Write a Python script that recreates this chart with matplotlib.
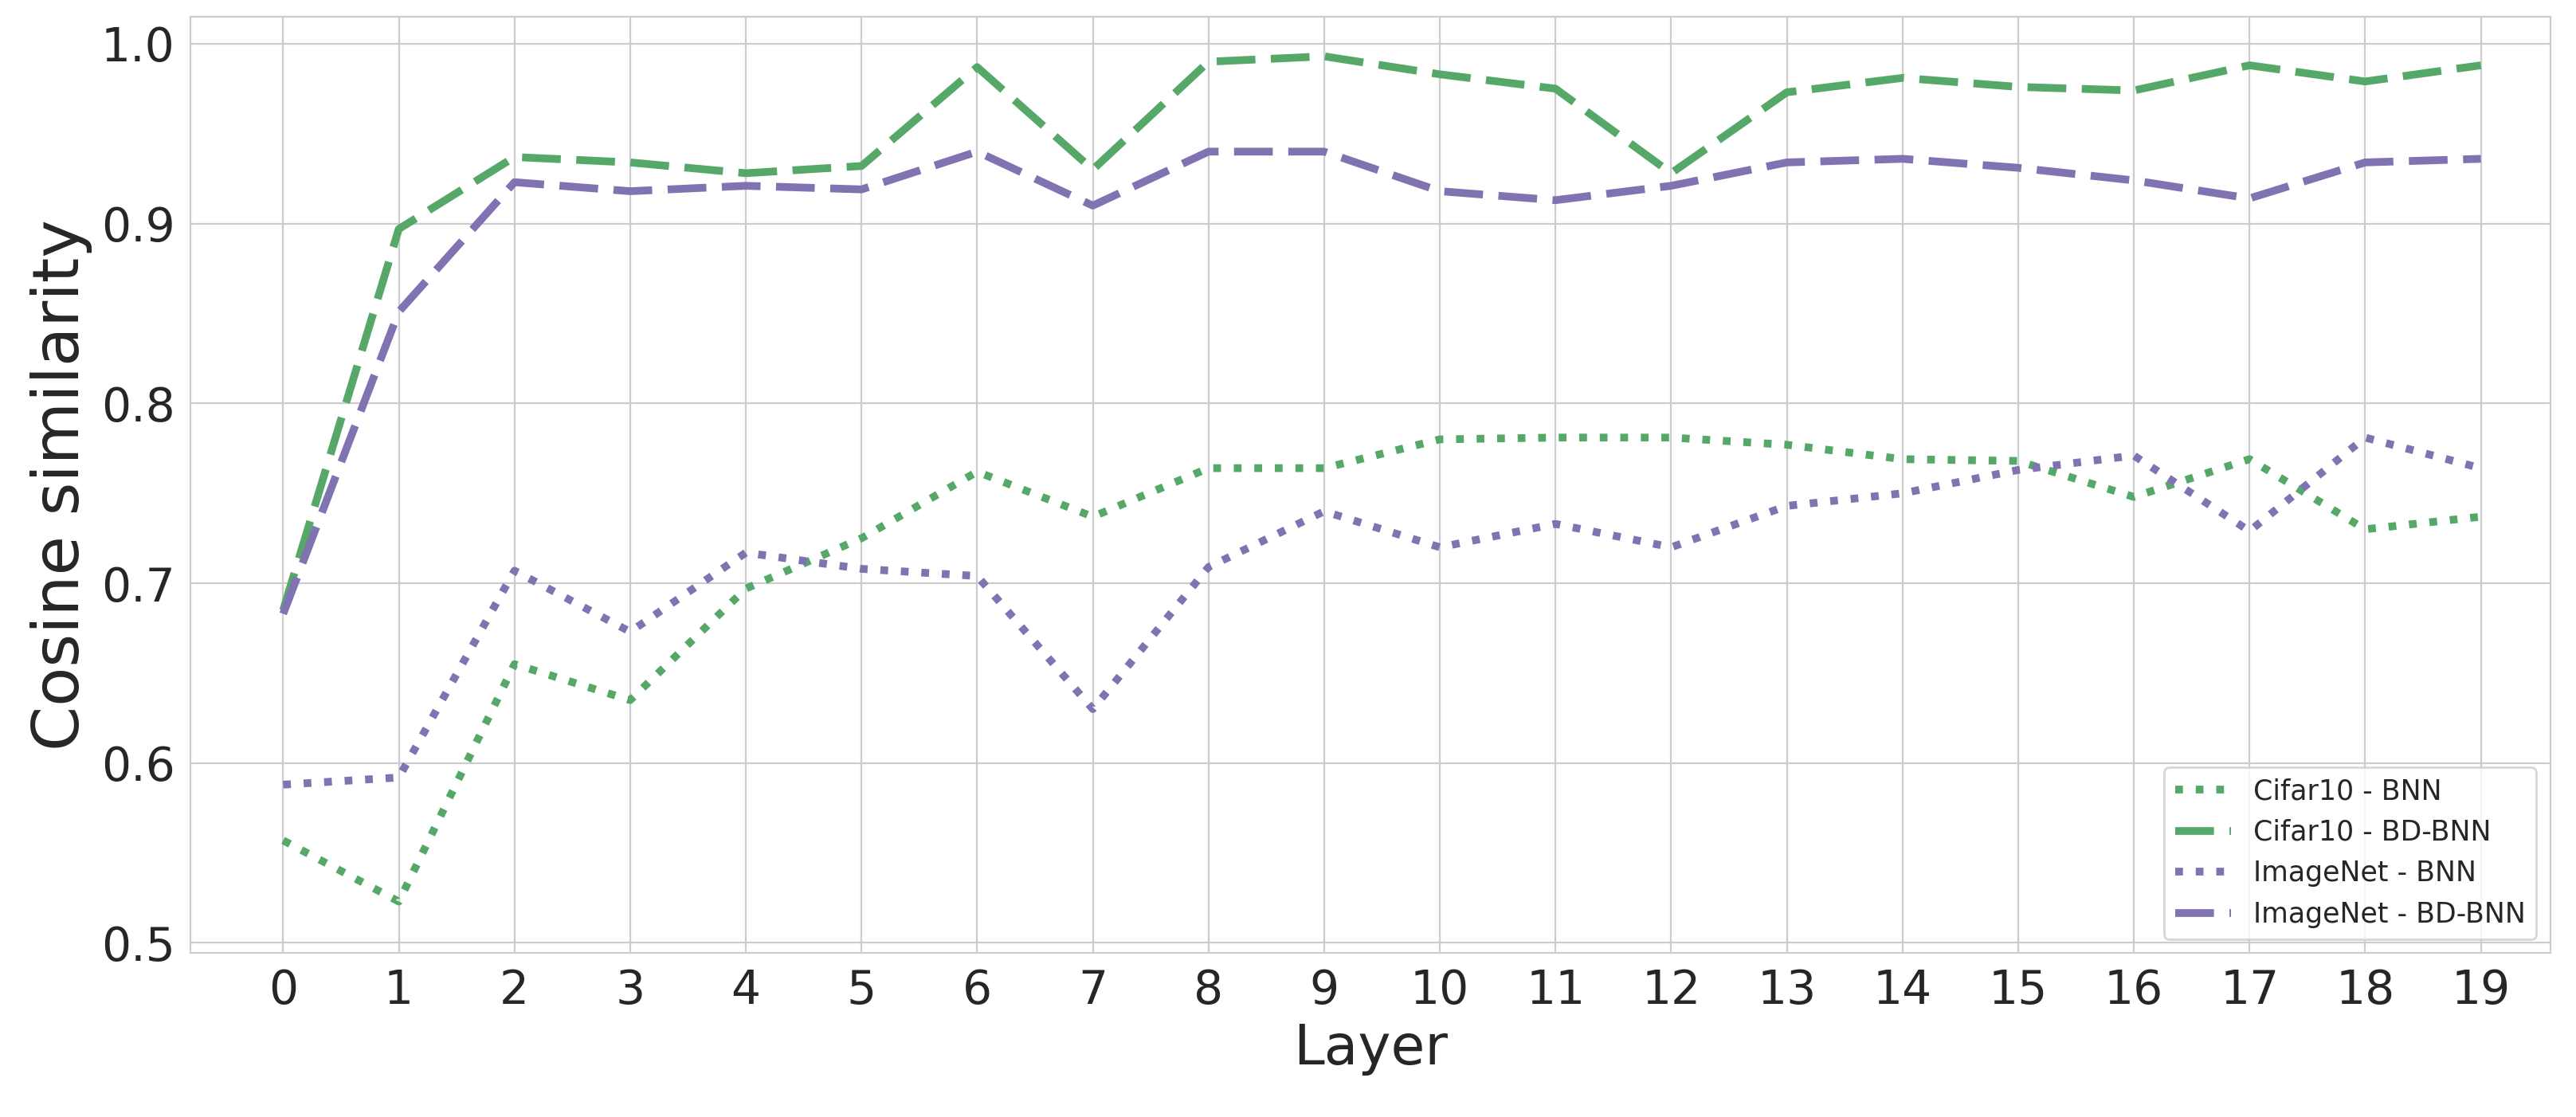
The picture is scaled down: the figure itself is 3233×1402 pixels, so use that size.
import matplotlib
matplotlib.use("Agg")
import matplotlib.pyplot as plt
import seaborn as sns

layers = list(range(20))
cifar_bnn = [0.557, 0.523, 0.655, 0.635, 0.697, 0.725, 0.762, 0.737, 0.764, 0.764, 0.780, 0.781, 0.781, 0.777, 0.769, 0.768, 0.748, 0.769, 0.730, 0.737]
cifar_bdbnn = [0.685, 0.897, 0.937, 0.934, 0.928, 0.932, 0.987, 0.930, 0.990, 0.993, 0.983, 0.975, 0.928, 0.973, 0.981, 0.976, 0.974, 0.988, 0.979, 0.988]
imnet_bnn = [0.588, 0.592, 0.707, 0.673, 0.717, 0.708, 0.704, 0.630, 0.709, 0.740, 0.720, 0.733, 0.720, 0.743, 0.750, 0.763, 0.771, 0.729, 0.781, 0.764]
imnet_bdbnn = [0.683, 0.851, 0.923, 0.918, 0.921, 0.919, 0.940, 0.910, 0.940, 0.940, 0.918, 0.913, 0.921, 0.934, 0.936, 0.931, 0.924, 0.914, 0.934, 0.936]

sns.set_style("whitegrid")
plt.rcParams['font.family'] = ['DejaVu Sans']
green = "#55A868"
purple = "#8172B2"

fig, ax = plt.subplots(figsize=(16.165, 7.01), dpi=200)
ax.plot(layers, cifar_bnn, ':', color=green, lw=3.5, label="Cifar10 - BNN")
ax.plot(layers, cifar_bdbnn, '--', color=green, lw=3.5, dashes=(5, 2), label="Cifar10 - BD-BNN")
ax.plot(layers, imnet_bnn, ':', color=purple, lw=3.5, label="ImageNet - BNN")
ax.plot(layers, imnet_bdbnn, '--', color=purple, lw=3.5, dashes=(5, 2), label="ImageNet - BD-BNN")
ax.set_xticks(layers)
ax.set_xlim(-0.8, 19.6)
ax.set_ylim(0.4945, 1.015)
ax.set_yticks([0.5, 0.6, 0.7, 0.8, 0.9, 1.0])
ax.tick_params(labelsize=21)
ax.set_xlabel("Layer", fontsize=25, labelpad=4)
ax.set_ylabel("Cosine similarity", fontsize=29)
ax.legend(loc="lower right", fontsize=12.5, frameon=True)
fig.subplots_adjust(left=0.074, right=0.99, top=0.985, bottom=0.147)
fig.savefig("out.png", dpi=200)
